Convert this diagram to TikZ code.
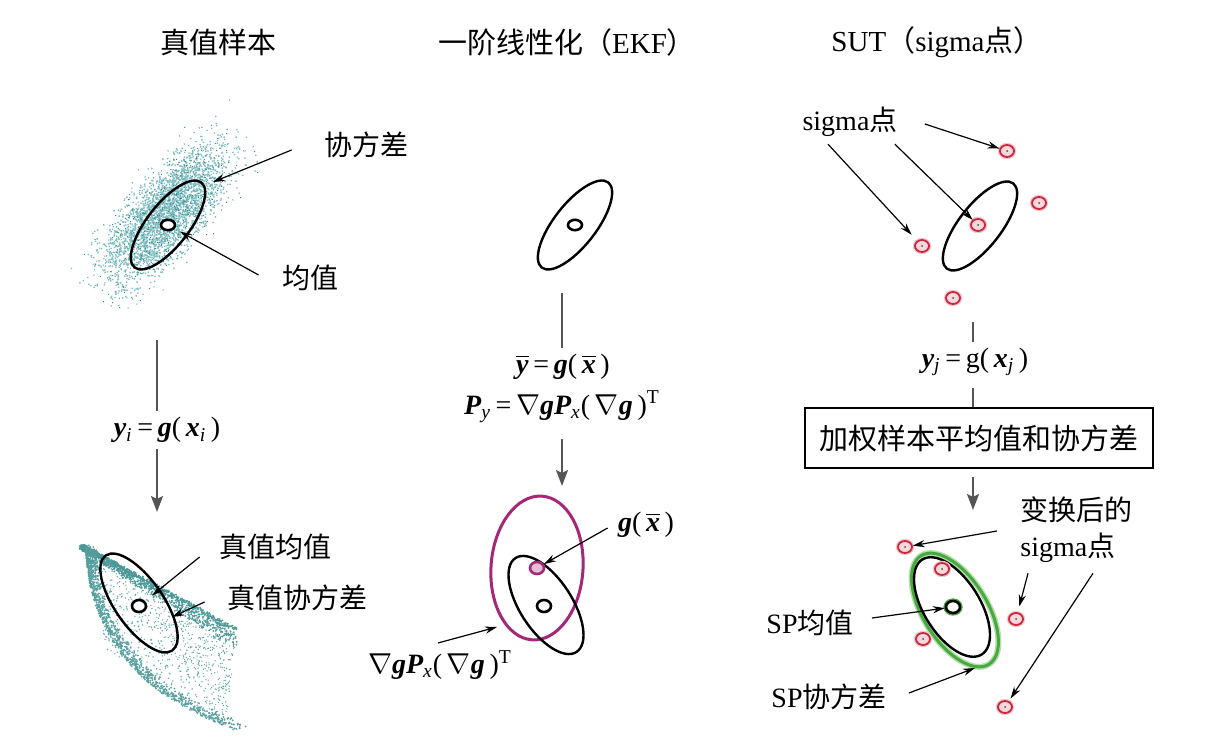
\documentclass[tikz,border=0pt]{standalone}
\usepackage{amsmath}
\usepackage{fontspec}
\setmainfont{Liberation Serif}
\newfontfamily\cjk{Noto Sans CJK SC}
\usetikzlibrary{arrows.meta, shapes.geometric, positioning}
\definecolor{cloudteal}{RGB}{95,175,180}
\definecolor{darkteal}{RGB}{30,125,125}
\definecolor{sigred}{RGB}{200,40,60}
\definecolor{sigpink}{RGB}{250,215,220}
\definecolor{linmag}{RGB}{165,40,120}
\definecolor{spgreen}{RGB}{70,170,60}
\definecolor{flowgray}{RGB}{85,85,85}
\newcommand{\bv}[1]{{\bfseries\itshape #1}}
\newcommand{\sbi}[1]{\textsubscript{\itshape #1}}
\newcommand{\barv}[1]{$\overline{\mbox{\bv{#1}}}$}
\newcommand{\bnab}{$\nabla$}

\begin{document}
\begin{tikzpicture}[
  x=0.5pt, y=-0.5pt, font=\fontsize{14}{17}\selectfont,
  lbl/.style={font=\fontsize{14}{18}\selectfont\cjk, inner sep=0pt},
  ttl/.style={font=\fontsize{14.5}{17}\selectfont\cjk, inner sep=0pt},
  eqn/.style={inner sep=3pt},
  ptr/.style={-{Stealth[length=6pt,width=3.6pt]}, line width=0.6pt},
  flow/.style={draw=flowgray, line width=1pt},
  flowar/.style={flow, -{Stealth[length=8pt,width=6pt,inset=1.5pt]}},
  covell/.style={line width=1.2pt},
  meanpt/.style={ellipse, draw, line width=1.3pt, fill=white, minimum width=7pt, minimum height=5.2pt, inner sep=0pt,
    path picture={\fill (path picture bounding box.center) circle (0.5pt);}},
  sigpt/.style={ellipse, draw=sigred, line width=0.9pt, fill=sigpink, minimum width=7pt, minimum height=6pt, inner sep=0pt,
    preaction={draw=sigred!25, line width=2.2pt},
    path picture={\fill[black!70] (path picture bounding box.center) circle (0.5pt);}}
]
  \useasboundingbox (0,0) rectangle (1232,753);
  \pgfmathsetseed{7}

  % titles
  \node[ttl] (tTrue) at (218,42) {真值样本};
  \node[ttl] (tLin) at (567,42) {一阶线性化（{\rmfamily EKF}）};
  \node[ttl] (tSut) at (937,42) {{\rmfamily SUT}（{\rmfamily sigma}点）};

  % sample cloud before mapping
  \begin{scope}[shift={(166,214)}, rotate=50]
    \foreach \i in {1,...,2600}{
      \fill[cloudteal!80] ({41*(rand+rand+rand)},{16*(rand+rand+rand)}) circle (1.0);
    }
    \foreach \i in {1,...,800}{
      \fill[darkteal!90] ({45*(rand+rand+rand)},{18*(rand+rand+rand)}) circle (0.7);
    }
  \end{scope}

  % sample cloud after mapping
  \foreach \i in {1,...,1200}{
    \pgfmathsetmacro\tval{rnd^1.5}
    \fill[darkteal!80] ({82+153*\tval+3*rand},{545+83*\tval+(5+16*\tval)*rnd^2}) circle (1.0);
  }
  \foreach \i in {1,...,1100}{
    \pgfmathsetmacro\tval{rnd^1.6}
    \pgfmathsetmacro\bx{(1-\tval)^2*86+2*(1-\tval)*\tval*92+\tval^2*235}
    \pgfmathsetmacro\by{(1-\tval)^2*552+2*(1-\tval)*\tval*680+\tval^2*730}
    \fill[darkteal!75] ({\bx+11*rnd^2},{\by-8*rnd^2}) circle (1.0);
  }
  \foreach \i in {1,...,600}{
    \pgfmathsetmacro\wa{rnd}
    \pgfmathsetmacro\wb{rnd}
    \pgfmathsetmacro\ws{ifthenelse(\wa+\wb>1,1-\wa,\wa)}
    \pgfmathsetmacro\wr{ifthenelse(\wa+\wb>1,1-\wb,\wb)}
    \fill[darkteal!70] ({95+\ws*143+\wr*130},{558+\ws*72+\wr*170}) circle (0.7);
  }
  \foreach \i in {1,...,250}{
    \pgfmathsetmacro\wa{rnd}
    \pgfmathsetmacro\wb{rnd}
    \pgfmathsetmacro\ws{ifthenelse(\wa+\wb>1,1-\wa,\wa)}
    \pgfmathsetmacro\wr{ifthenelse(\wa+\wb>1,1-\wb,\wb)}
    \fill[cloudteal] ({95+\ws*130+\wr*10},{558+\ws*170+\wr*90}) circle (0.8);
  }

  % covariance ellipses
  \draw[covell, rotate around={52:(168,225)}] (168,225) ellipse [x radius=54, y radius=21];
  \draw[covell, rotate around={-55:(139,603)}] (139,603) ellipse [x radius=58, y radius=24];
  \draw[covell, rotate around={52:(575,225)}] (575,225) ellipse [x radius=54, y radius=21];
  \draw[draw=linmag, line width=1.5pt, rotate around={-4:(537,568)}] (537,568) ellipse [x radius=46, y radius=72];
  \draw[covell, rotate around={-57:(546,605)}] (546,605) ellipse [x radius=56, y radius=26];
  \draw[covell, rotate around={52:(980,226)}] (980,226) ellipse [x radius=54, y radius=21];
  \draw[draw=spgreen!40, line width=3pt, rotate around={-58:(955,610)}] (955,610) ellipse [x radius=64, y radius=32];
  \draw[draw=spgreen, line width=1.5pt, rotate around={-58:(955,610)}] (955,610) ellipse [x radius=64, y radius=32];
  \draw[covell, rotate around={-58:(952,607)}] (952,607) ellipse [x radius=56, y radius=28];

  % means
  \node[meanpt] (mTop) at (168,225) {};
  \node[meanpt, minimum height=6pt] (mBot) at (139,606) {};
  \node[meanpt] (mLin) at (575,225) {};
  \node[meanpt, minimum height=6pt] (mLinOut) at (544,606) {};
  \node[meanpt, draw=linmag, fill=linmag!30, minimum height=6pt] (gPt) at (537,568) {};

  % sigma points
  \node[sigpt] (sp0) at (978,225) {};
  \node[sigpt] (sp1) at (1007,151) {};
  \node[sigpt] (sp2) at (1039,203) {};
  \node[sigpt] (sp3) at (922,246) {};
  \node[sigpt] (sp4) at (953,298) {};
  \node[sigpt] (tp1) at (905,547) {};
  \node[sigpt] (tp2) at (942,569) {};
  \node[meanpt, minimum height=6pt, preaction={draw=spgreen, line width=2.6pt}] (tp3) at (953,607) {};
  \node[sigpt] (tp4) at (1016,619) {};
  \node[sigpt] (tp5) at (923,639) {};
  \node[sigpt] (tp6) at (1005,707) {};

  % labels
  \node[lbl] (covTxt) at (366,145) {协方差};
  \node[lbl] (meanTxt) at (310,278) {均值};
  \node[lbl] (tMeanTxt) at (275,547) {真值均值};
  \node[lbl] (tCovTxt) at (297,598) {真值协方差};
  \node[eqn, inner sep=0pt] (gxTxt) at (646,525) {\bv{g}(\,\barv{x}\,)};
  \node[eqn, inner sep=0pt] (jacTxt) at (440,665) {\bnab\bv{gP}\sbi{x}(\,\bnab\bv{g}\,)\textsuperscript{T}};
  \node[lbl] (sigTxt) at (850,122) {{\rmfamily sigma}点};
  \node[lbl, align=left, anchor=west] (tSigTxt) at (1020,530) {变换后的\\{\rmfamily sigma}点};
  \node[lbl] (spMeanTxt) at (810,623) {{\rmfamily SP}均值};
  \node[lbl] (spCovTxt) at (829,697) {{\rmfamily SP}协方差};

  % mapping steps
  \node[eqn] (mapL) at (167,430) {\bv{y}\sbi{i}\,=\,\bv{g}(\,\bv{x}\sbi{i}\,)};
  \coordinate (topL) at (157,340);
  \coordinate (endL) at (157,512);
  \draw[flow] (topL) -- (topL |- mapL.north);
  \draw[flowar] (endL |- mapL.south) -- (endL);

  \node[eqn] (eqMean) at (563,367) {\barv{y}\,=\,\bv{g}(\,\barv{x}\,)};
  \node[eqn] (eqCov) at (562,407) {\bv{P}\sbi{y}\,=\,\bnab\bv{gP}\sbi{x}(\,\bnab\bv{g}\,)\textsuperscript{T}};
  \coordinate (topM) at (562,293);
  \coordinate (endM) at (562,486);
  \draw[flow] (topM) -- (topM |- eqMean.north);
  \draw[flowar, shorten <=5pt] (endM |- eqCov.south) -- (endM);

  \node[eqn] (mapR) at (975,362) {\bv{y}\sbi{j}\,=\,g(\,\bv{x}\sbi{j}\,)};
  \node[draw, line width=0.6pt, minimum width=174pt, minimum height=30pt, font=\fontsize{14.5}{17}\selectfont\cjk] (wBox) at (979,438) {加权样本平均值和协方差};
  \coordinate (topR) at (973,322);
  \coordinate (endR) at (973,510);
  \draw[flow] (topR) -- (topR |- mapR.north);
  \draw[flow, shorten <=3pt] (mapR.south -| topR) -- (wBox.north -| topR);
  \draw[flowar, shorten <=4pt] (wBox.south -| endR) -- (endR);

  % pointers
  \coordinate (covTip) at (213,182);
  \coordinate (tCovTip) at (172,617);
  \coordinate (jacTip) at (497,627);
  \coordinate (spCovTip) at (975,668);
  \draw[ptr] ([xshift=-16pt,yshift=-2.5pt]covTxt.west) -- (covTip);
  \draw[ptr, shorten >=3pt] ([xshift=-11.5pt,yshift=1.5pt]meanTxt.west) -- (mTop);
  \draw[ptr, shorten >=4.5pt] ([xshift=-9.5pt,yshift=-5pt]tMeanTxt.west) -- (mBot);
  \draw[ptr] ([xshift=-11pt,yshift=-2pt]tCovTxt.west) -- (tCovTip);
  \draw[ptr] ([xshift=-5pt,yshift=-1.5pt]gxTxt.west) -- (gPt);
  \draw[ptr] ([xshift=-1pt,yshift=3.5pt]jacTxt.north) -- (jacTip);
  \draw[ptr] ([xshift=13.5pt,yshift=-1pt]sigTxt.east) -- (sp1);
  \draw[ptr] ([xshift=-1.5pt,yshift=-3.5pt]sigTxt.south east) -- (sp0);
  \draw[ptr, shorten >=4pt] ([xshift=-11pt,yshift=-3.5pt]sigTxt.south) -- (sp3);
  \draw[ptr] ([xshift=-11.5pt,yshift=-0.5pt]tSigTxt.west) -- (tp1);
  \draw[ptr, shorten >=3pt] ([xshift=4pt,yshift=-5pt]tSigTxt.south west) -- (tp4);
  \draw[ptr, shorten >=1.5pt] ([xshift=36.5pt,yshift=-5pt]tSigTxt.south west) -- (tp6);
  \draw[ptr] ([xshift=9pt,yshift=2.5pt]spMeanTxt.east) -- (tp3);
  \draw[ptr] ([xshift=11pt,yshift=2pt]spCovTxt.east) -- (spCovTip);
\end{tikzpicture}
\end{document}
